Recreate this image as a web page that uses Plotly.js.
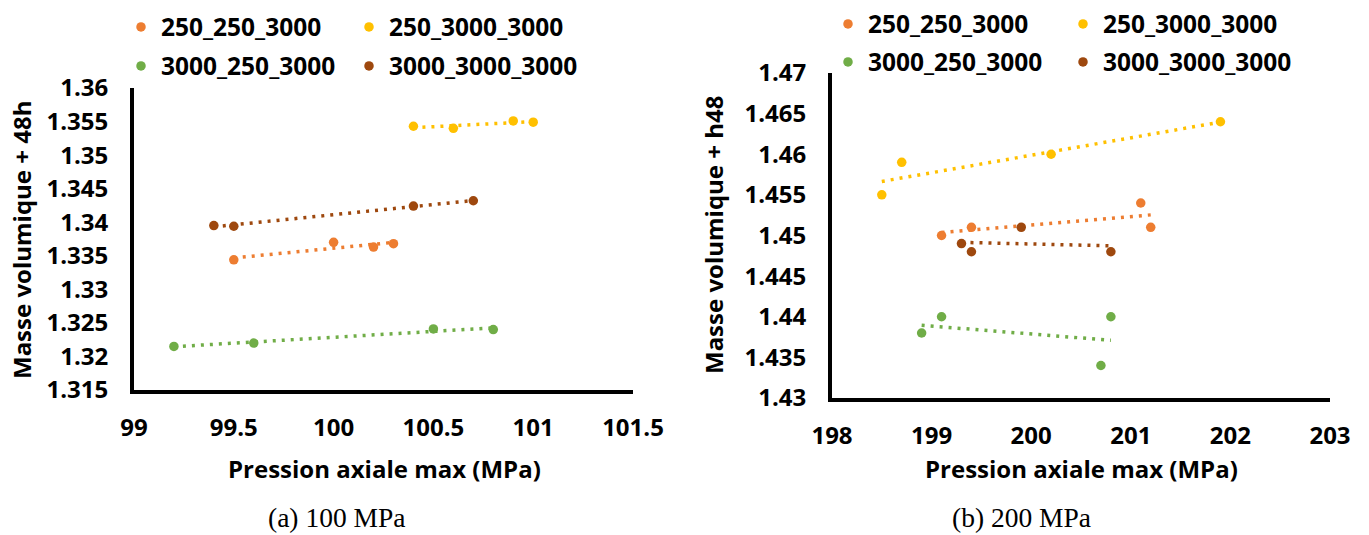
<!DOCTYPE html>
<html><head><meta charset="utf-8">
<script src="https://cdn.plot.ly/plotly-3.0.1.min.js"></script>
<style>html,body{margin:0;padding:0;background:#fff;} #chart{width:1369px;height:535px;}</style>
</head><body><div id="chart"></div>
<script>
// Series names & colours
const seriesNames = ["250_250_3000", "250_3000_3000", "3000_250_3000", "3000_3000_3000"];
const seriesColors = ["#ED7D31", "#FFC000", "#70AD47", "#9E480E"];

// (a) 100 MPa
const a_x_250_250 = [99.5, 100.0, 100.2, 100.3];
const a_y_250_250 = [1.3344, 1.3370, 1.3363, 1.3368];
const a_x_250_3000 = [100.4, 100.6, 100.9, 101.0];
const a_y_250_3000 = [1.3543, 1.3540, 1.3551, 1.3549];
const a_x_3000_250 = [99.2, 99.6, 100.5, 100.8];
const a_y_3000_250 = [1.3215, 1.3220, 1.3241, 1.3240];
const a_x_3000_3000 = [99.4, 99.5, 100.4, 100.7];
const a_y_3000_3000 = [1.3395, 1.3394, 1.3424, 1.3432];

// (b) 200 MPa
const b_x_250_250 = [199.1, 199.4, 201.1, 201.2];
const b_y_250_250 = [1.450, 1.451, 1.454, 1.451];
const b_x_250_3000 = [198.5, 198.7, 200.2, 201.9];
const b_y_250_3000 = [1.455, 1.459, 1.460, 1.464];
const b_x_3000_250 = [198.9, 199.1, 200.7, 200.8];
const b_y_3000_250 = [1.438, 1.440, 1.434, 1.440];
const b_x_3000_3000 = [199.3, 199.4, 199.9, 200.8];
const b_y_3000_3000 = [1.449, 1.448, 1.451, 1.448];

// Tick labels
const a_xticks = [99, 99.5, 100, 100.5, 101, 101.5];
const a_xticktext = ["99", "99.5", "100", "100.5", "101", "101.5"];
const a_yticks = [1.315, 1.32, 1.325, 1.33, 1.335, 1.34, 1.345, 1.35, 1.355, 1.36];
const a_yticktext = ["1.315", "1.32", "1.325", "1.33", "1.335", "1.34", "1.345", "1.35", "1.355", "1.36"];
const b_xticks = [198, 199, 200, 201, 202, 203];
const b_xticktext = ["198", "199", "200", "201", "202", "203"];
const b_yticks = [1.43, 1.435, 1.44, 1.445, 1.45, 1.455, 1.46, 1.465, 1.47];
const b_yticktext = ["1.43", "1.435", "1.44", "1.445", "1.45", "1.455", "1.46", "1.465", "1.47"];

// Texts
const xTitle = "Pression axiale max (MPa)";
const a_yTitle = "Masse volumique + 48h";
const b_yTitle = "Masse volumique + h48";
const a_caption = "(a) 100 MPa";
const b_caption = "(b) 200 MPa";

const W = 1369, H = 535;
const FONT = "'Open Sans', Lato, sans-serif";
const px = v => v / W;
const py = v => 1 - v / H;

function fit(xs, ys) {
  const n = xs.length;
  const mx = xs.reduce((s, v) => s + v, 0) / n;
  const my = ys.reduce((s, v) => s + v, 0) / n;
  let sxy = 0, sxx = 0;
  for (let i = 0; i < n; i++) { sxy += (xs[i] - mx) * (ys[i] - my); sxx += (xs[i] - mx) ** 2; }
  const b = sxy / sxx, a = my - b * mx;
  const x0 = Math.min(...xs), x1 = Math.max(...xs);
  return { x: [x0, x1], y: [a + b * x0, a + b * x1] };
}

const traces = [];
function addSeries(xs, ys, idx, xa, ya, legendId) {
  const t = fit(xs, ys);
  traces.push({
    x: t.x, y: t.y, xaxis: xa, yaxis: ya, mode: 'lines', showlegend: false, hoverinfo: 'skip',
    line: { color: seriesColors[idx], width: 3.5, dash: '3px,6px' }
  });
  traces.push({
    x: xs, y: ys, xaxis: xa, yaxis: ya, mode: 'markers', name: seriesNames[idx],
    legend: legendId, marker: { color: seriesColors[idx], size: 9.5 }
  });
}
addSeries(a_x_250_250, a_y_250_250, 0, 'x', 'y', 'legend');
addSeries(a_x_250_3000, a_y_250_3000, 1, 'x', 'y', 'legend2');
addSeries(a_x_3000_250, a_y_3000_250, 2, 'x', 'y', 'legend3');
addSeries(a_x_3000_3000, a_y_3000_3000, 3, 'x', 'y', 'legend4');
addSeries(b_x_250_250, b_y_250_250, 0, 'x2', 'y2', 'legend5');
addSeries(b_x_250_3000, b_y_250_3000, 1, 'x2', 'y2', 'legend6');
addSeries(b_x_3000_250, b_y_3000_250, 2, 'x2', 'y2', 'legend7');
addSeries(b_x_3000_3000, b_y_3000_3000, 3, 'x2', 'y2', 'legend8');

const tickFont = { family: FONT, size: 24, color: '#000', weight: 700 };
function xAxis(domain, range, vals, text, anchor) {
  return {
    domain, range, tickvals: vals, ticktext: text, anchor, showgrid: false, zeroline: false,
    showline: true, linecolor: '#000', linewidth: 4, ticks: '', tickfont: tickFont,
    ticklabelstandoff: 13, fixedrange: true, automargin: false
  };
}
function yAxis(domain, range, vals, text, anchor) {
  return {
    domain, range, tickvals: vals, ticktext: text, anchor, showgrid: false, zeroline: false,
    showline: true, linecolor: '#000', linewidth: 4, ticks: '', tickfont: tickFont,
    ticklabelstandoff: 17, fixedrange: true, automargin: false
  };
}
function legendAt(x, y) {
  return {
    xref: 'container', yref: 'container', x: px(x), y: py(y), xanchor: 'left', yanchor: 'middle',
    orientation: 'h', bgcolor: 'rgba(0,0,0,0)',
    font: { family: FONT, size: 24.5, color: '#000', weight: 700 }
  };
}
const titleFont = { family: FONT, size: 24, color: '#000', weight: 700 };
const capFont = { family: "'Liberation Serif', 'Times New Roman', serif", size: 27.5, color: '#000' };

const layout = {
  width: W, height: H, margin: { l: 0, r: 0, t: 0, b: 0, autoexpand: false },
  paper_bgcolor: '#fff', plot_bgcolor: '#fff',
  font: { family: FONT, color: '#000' },
  xaxis: xAxis([px(134), px(633)], [99, 101.5], a_xticks, a_xticktext, 'y'),
  yaxis: yAxis([py(390), py(88)], [1.315, 1.36], a_yticks, a_yticktext, 'x'),
  xaxis2: xAxis([px(832), px(1330)], [198, 203], b_xticks, b_xticktext, 'y2'),
  yaxis2: yAxis([py(398), py(73)], [1.43, 1.47], b_yticks, b_yticktext, 'x2'),
  legend: legendAt(121, 27),
  legend2: legendAt(349, 27),
  legend3: legendAt(121, 66),
  legend4: legendAt(349, 66),
  legend5: legendAt(828, 24),
  legend6: legendAt(1063, 24),
  legend7: legendAt(828, 62),
  legend8: legendAt(1063, 62),
  annotations: [
    { text: xTitle, xref: 'paper', yref: 'paper', x: px(384), y: py(468), showarrow: false, font: titleFont, xanchor: 'center', yanchor: 'middle' },
    { text: xTitle, xref: 'paper', yref: 'paper', x: px(1081), y: py(468), showarrow: false, font: titleFont, xanchor: 'center', yanchor: 'middle' },
    { text: a_yTitle, xref: 'paper', yref: 'paper', x: px(21), y: py(240), showarrow: false, font: titleFont, textangle: -90, xanchor: 'center', yanchor: 'middle' },
    { text: b_yTitle, xref: 'paper', yref: 'paper', x: px(714), y: py(235), showarrow: false, font: titleFont, textangle: -90, xanchor: 'center', yanchor: 'middle' },
    { text: a_caption, xref: 'paper', yref: 'paper', x: px(336), y: py(517), showarrow: false, font: capFont, xanchor: 'center', yanchor: 'middle' },
    { text: b_caption, xref: 'paper', yref: 'paper', x: px(1022), y: py(517), showarrow: false, font: capFont, xanchor: 'center', yanchor: 'middle' }
  ],
  showlegend: true
};

Plotly.newPlot('chart', traces, layout, { staticPlot: true, displayModeBar: false });
</script>
</body></html>
